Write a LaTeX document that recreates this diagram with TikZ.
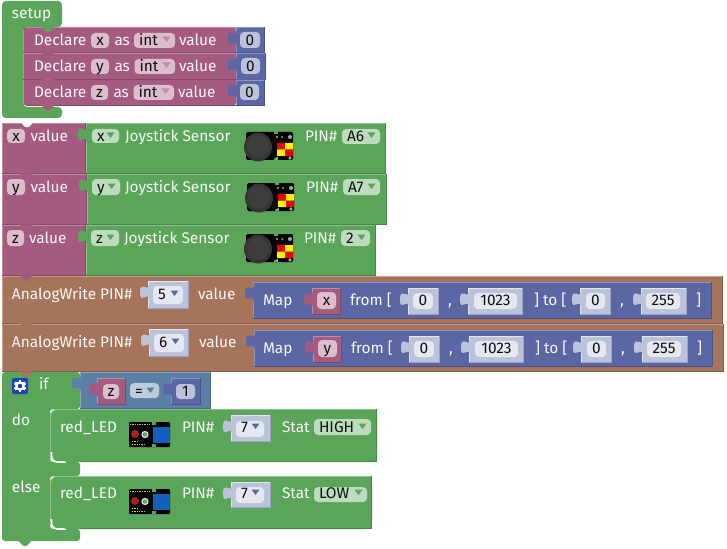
\documentclass[tikz,border=0pt]{standalone}
\usepackage{fontspec}
\setmainfont{Fira Sans}
\definecolor{gr}{HTML}{5BA55B}\definecolor{grL}{HTML}{8CC08C}\definecolor{grD}{HTML}{498449}\definecolor{grF}{HTML}{BDDBBD}
\definecolor{pu}{HTML}{A55B80}\definecolor{puL}{HTML}{C08CA6}\definecolor{puD}{HTML}{844966}\definecolor{puF}{HTML}{DBBDCC}
\definecolor{bl}{HTML}{5B67A5}\definecolor{blL}{HTML}{8C95C0}\definecolor{blD}{HTML}{495284}\definecolor{blF}{HTML}{BDC2DB}
\definecolor{br}{HTML}{A5745B}\definecolor{brL}{HTML}{C09E8C}\definecolor{brD}{HTML}{845D49}
\definecolor{st}{HTML}{5B80A5}\definecolor{stL}{HTML}{8CA6C0}\definecolor{stD}{HTML}{496684}\definecolor{stF}{HTML}{BDCCDB}
\definecolor{sh}{HTML}{BDC2DB}\definecolor{shL}{HTML}{E4E6F1}\definecolor{shD}{HTML}{9DA3C4}\definecolor{shF}{HTML}{E6E8F1}
\definecolor{lbl}{HTML}{F8F8F8}\definecolor{ink}{HTML}{111111}
\definecolor{joyA}{HTML}{363636}\definecolor{joyB}{HTML}{3E3E3E}
\definecolor{ledBlue}{HTML}{1560BD}\definecolor{ledRed}{HTML}{B01E1E}
\definecolor{ledGrey}{HTML}{DDDDDD}\definecolor{gearBlue}{HTML}{1F3FBF}
\tikzset{
  lab/.style={inner sep=0pt,outer sep=0pt,text=lbl,font=\fontsize{15.4}{18}\selectfont,anchor=base west,yshift=-.6pt},
  val/.style={inner sep=0pt,outer sep=0pt,text=ink,font=\fontsize{15.4}{18}\selectfont,yshift=-.6pt},
}
% rectangular block with bevel
\newcommand{\rblk}[5]{%
  \fill[#5] (#1,#2) rectangle (#3,#4);
  \draw[#5L,line width=.9pt] (#1+.5,#4) -- (#1+.5,#2+.5) -- (#3,#2+.5);
  \draw[#5D,line width=.9pt] (#3-.5,#2) -- (#3-.5,#4-.5) -- (#1,#4-.5);}
% left value tab
\newcommand{\vtab}[3]{%
  \fill[#3] (#1+.8,#2) .. controls (#1,#2+8) and (#1-8,#2-6) .. (#1-8,#2+7.5)
     .. controls (#1-8,#2+21) and (#1,#2+5) .. (#1+.8,#2+15) -- cycle;}
\newcommand{\vblk}[5]{\rblk{#1}{#2}{#3}{#4}{#5}\vtab{#1}{#2+4}{#5}}
% statement notch bump
\newcommand{\bump}[3]{%
  \fill[#3] (#1,#2-.7) .. controls (#1+2,#2-.2) and (#1+3,#2+1) .. (#1+4,#2+2.5)
    .. controls (#1+5,#2+4) and (#1+6,#2+5) .. (#1+8,#2+5)
    .. controls (#1+10,#2+5) and (#1+11,#2+4) .. (#1+12,#2+2.5)
    .. controls (#1+13,#2+1) and (#1+14,#2-.2) .. (#1+16,#2-.7) -- cycle;}
% label
\newcommand{\lb}[4]{\node[lab] (#1) at (#2,#3) {#4};}
% field with centred text: name x1 y1 x2 y2 fill text baseline
\newcommand{\fc}[8]{%
  \fill[#6,rounded corners=4pt] (#2,#3) rectangle (#4,#5);
  \path (#2,#8) -- (#4,#8) node[val,midway,anchor=base] (#1) {#7};}
% dropdown field: name x1 y1 x2 y2 fill text baseline tri colour
\newcommand{\dd}[9]{%
  \fill[#6,rounded corners=4pt] (#2,#3) rectangle (#4,#5);
  \node[val,anchor=base west] (#1) at (#2+5,#8) {#7};
  \fill[#9] (#4-12.5,#8-8.5) -- (#4-4.5,#8-8.5) -- (#4-8.5,#8-3) -- cycle;}
% joystick image at top-left corner
\newcommand{\joy}[2]{%
 \begin{scope}[shift={(#1,#2)}]
  \fill[black,rounded corners=1.5pt] (2,-1) rectangle (49,27);
  \fill[gr] (30,-1.2) rectangle (34,1) (30,25) rectangle (34,27.2);
  \fill[joyA] (14,14) ellipse [x radius=14,y radius=14.5];
  \fill[joyB] (14,13.5) circle [radius=11];
  \fill[red!95!black] (33,10) rectangle (41,16.5) (41,16.5) rectangle (49,23);
  \fill[yellow] (41,10) rectangle (49,16.5) (33,16.5) rectangle (41,23);
  \fill[gray!70] (46,4) circle [radius=2] (46,25) circle [radius=1.8];
  \fill[gray!50!yellow] (33,4) circle [radius=1.2] (38,4) circle [radius=1] (33,25) circle [radius=1];
 \end{scope}}
% LED module image at top-left corner
\newcommand{\led}[2]{%
 \begin{scope}[shift={(#1,#2)}]
  \fill[black,rounded corners=1pt] (0,0) rectangle (41,25);
  \fill[gr] (23,-.2) rectangle (27,3) (23,22) rectangle (27,25.2);
  \fill[ledBlue] (24,5) rectangle (41,21);
  \draw[yellow!80!black,line width=.7pt,dash pattern=on 1pt off .7pt] (1,2.5) -- (21,2.5) (3,19) -- (9,19) (3,22) -- (15,22);
  \fill[ledRed] (6,12) circle [radius=4];
  \fill[ledGrey] (16,12.5) circle [radius=3.7];
  \fill[gr] (16,12.5) circle [radius=2.2];
 \end{scope}}
\begin{document}
\begin{tikzpicture}[x=1pt,y=-1pt]
\useasboundingbox (0,0) rectangle (727,548);
\fill[white] (0,0) rectangle (727,548);
% ---------- setup
\fill[gr,rounded corners=4pt] (2,1) -- (62,1) -- (62,27) -- (23,27) -- (23,107) -- (62,107) -- (62,118) -- (2,118) -- cycle;
\lb{tsetup}{12}{18}{setup}
% Declare blocks
\fill[pu,rounded corners=3pt] (23,27) -- (236,27) -- (236,105.5) -- (23,105.5) -- cycle;
\draw[puL,line width=.9pt] (23.5,30) -- (23.5,103) (26,27.5) -- (236,27.5);
\draw[puD,line width=.9pt] (26,105) -- (236,105);
\draw[puL,line width=.7pt] (23,53.5) -- (236,53.5) (23,79.8) -- (236,79.8);
\draw[puD,line width=.7pt] (23,52.8) -- (236,52.8) (23,79.2) -- (236,79.2);
\bump{40}{27}{gr}
\bump{40}{53}{pu}\bump{40}{79.3}{pu}\bump{40}{105.5}{pu}
\lb{d1}{34}{45}{Declare}\fc{d1x}{91}{33}{109}{48}{puF}{x}{45}
\lb{d1a}{114.5}{45}{as}\dd{d1t}{134}{33}{175}{48}{puF}{int}{45}{puL}
\lb{d1v}{179}{45}{value}
\vblk{236}{27}{265}{53}{bl}\fc{d1n}{240}{32}{260}{48}{blF}{0}{45}
\lb{d2}{34}{71}{Declare}\fc{d2x}{91}{59}{109}{74}{puF}{y}{71}
\lb{d2a}{114.5}{71}{as}\dd{d2t}{134.5}{59}{175}{74}{puF}{int}{71}{puL}
\lb{d2v}{179}{71}{value}
\vblk{236}{53}{266}{79.5}{bl}\fc{d2n}{241}{58}{260}{74}{blF}{0}{71}
\lb{d3}{34}{97}{Declare}\fc{d3x}{91}{85}{108}{100}{puF}{z}{97}
\lb{d3a}{113.5}{97}{as}\dd{d3t}{133.5}{85}{174}{100}{puF}{int}{97}{puL}
\lb{d3v}{178}{97}{value}
\vblk{236}{79.5}{265}{105.5}{bl}\fc{d3n}{240}{84}{259}{100}{blF}{0}{97}
% ---------- if block (bottom-up so that bumps overlay)
\fill[gr,rounded corners=3pt] (2,372) -- (80,372) -- (80,409) -- (50,409) -- (50,462) -- (80,462) -- (80,476) -- (50,476) -- (50,529) -- (80,529) -- (80,541) -- (2,541) -- cycle;
\bump{17}{541}{gr}
% statement blocks
\fill[gr,rounded corners=7pt] (50,409) -- (377,409) -- (377,462) -- (50,462) -- cycle;
\fill[gr] (360,409) rectangle (377,462);
\draw[grL,line width=.9pt,rounded corners=7pt] (50.5,456) -- (50.5,409.5) -- (377,409.5);
\draw[grD,line width=.9pt] (376.5,409) -- (376.5,461.5) -- (80,461.5);
\draw[white,line width=1.6pt,rounded corners=6pt] (51.5,452) -- (51.5,462) -- (66,462);
\bump{64}{462}{gr}
\fill[gr,rounded corners=7pt] (50,476) -- (372,476) -- (372,529) -- (50,529) -- cycle;
\fill[gr] (355,476) rectangle (372,529);
\draw[grL,line width=.9pt,rounded corners=7pt] (50.5,523) -- (50.5,476.5) -- (372,476.5);
\draw[grD,line width=.9pt] (371.5,476) -- (371.5,528.5) -- (80,528.5);
\draw[white,line width=1.6pt,rounded corners=6pt] (51.5,519) -- (51.5,529) -- (66,529);
\bump{64}{529}{gr}
% gear
\fill[gearBlue,rounded corners=2pt] (12,378) rectangle (28,394);
\foreach \a in {0,60,...,300}{\fill[white,rotate around={\a:(20,386)}] (18.6,379.8) rectangle (21.4,392.2);}
\fill[white] (20,386) circle [radius=4.8];
\fill[gearBlue] (20,386) circle [radius=2.2];
\lb{tif}{39}{389}{if}
\vblk{80}{372}{211}{409}{st}
\vblk{97}{378}{126}{405}{pu}\fc{ifz}{103}{384}{119}{399}{puF}{z}{396}
\dd{ifeq}{130}{383}{159}{398}{stF}{=}{396}{st}
\vblk{171}{378}{201}{405}{bl}\fc{if1}{176}{384}{195}{399}{blF}{1}{396}
\lb{tdo}{12}{425}{do}
\lb{tr1}{60}{432}{red\_LED}\led{129}{422}
\lb{tp1}{182}{432}{PIN\#}
\vblk{231}{415}{271}{442}{sh}\dd{p1}{236}{421}{264}{437}{shF}{7}{432}{bl}
\lb{ts1}{282}{432}{Stat}\dd{s1}{314}{419}{371}{435}{grF}{HIGH}{432}{gr}
\lb{telse}{12}{492}{else}
\lb{tr2}{60}{498}{red\_LED}\led{129}{489}
\lb{tp2}{182}{498}{PIN\#}
\vblk{231}{482}{271}{508}{sh}\dd{p2}{236}{487}{264}{503}{shF}{7}{498}{bl}
\lb{ts2}{282}{498}{Stat}\dd{s2}{314}{487}{367}{502}{grF}{LOW}{498}{gr}
% ---------- AnalogWrite 2
\rblk{2}{324}{724}{372}{br}\bump{18}{372}{br}
\lb{a2}{12}{347}{AnalogWrite PIN\#}
\vblk{149}{329}{189}{357}{sh}\dd{a2p}{154}{334}{184}{352}{shF}{6}{347}{bl}
\lb{a2v}{199}{347}{value}
\vblk{254}{330}{713}{367}{bl}
\lb{m2}{263}{353}{Map}
\vblk{313}{336}{342}{363}{pu}\fc{m2y}{318}{340}{337}{357}{puF}{y}{353}
\lb{m2f}{351}{353}{from [}
\vblk{409}{336}{440}{363}{sh}\fc{m2a}{414}{341}{434}{357}{shF}{0}{353}
\lb{m2c}{449}{353}{,}
\vblk{469}{336}{524}{363}{sh}\fc{m2b}{475}{341}{518}{357}{shF}{1023}{353}
\lb{m2t}{535}{353}{] to [}
\vblk{581}{336}{612}{363}{sh}\fc{m2d}{587}{341}{606}{357}{shF}{0}{353}
\lb{m2e}{621}{353}{,}
\vblk{642}{336}{688}{363}{sh}\fc{m2g}{647}{341}{681}{357}{shF}{255}{353}
\lb{m2h}{697}{353}{]}
% ---------- AnalogWrite 1
\rblk{2}{276}{723}{324}{br}\bump{18}{323.7}{br}
\lb{a1}{12}{299}{AnalogWrite PIN\#}
\vblk{148}{281}{189}{309}{sh}\dd{a1p}{153}{286}{183}{304}{shF}{5}{299}{bl}
\lb{a1v}{198}{299}{value}
\vblk{253}{282}{712}{319}{bl}
\lb{m1}{263}{305}{Map}
\vblk{312}{288}{341}{315}{pu}\fc{m1x}{317}{292}{336}{309}{puF}{x}{305}
\lb{m1f}{350}{305}{from [}
\vblk{408}{288}{439}{315}{sh}\fc{m1a}{413}{293}{433}{309}{shF}{0}{305}
\lb{m1c}{448}{305}{,}
\vblk{468}{288}{523}{315}{sh}\fc{m1b}{474}{293}{517}{309}{shF}{1023}{305}
\lb{m1t}{534}{305}{] to [}
\vblk{580}{288}{611}{315}{sh}\fc{m1d}{586}{293}{605}{309}{shF}{0}{305}
\lb{m1e}{620}{305}{,}
\vblk{641}{288}{687}{315}{sh}\fc{m1g}{646}{293}{680}{309}{shF}{255}{305}
\lb{m1h}{696}{305}{]}
% ---------- z row
\rblk{2}{225}{86}{276}{pu}\bump{18}{276}{pu}
\vblk{86}{225}{376}{276}{gr}
\fc{zf}{7}{230}{24}{246}{puF}{z}{243}\lb{zv}{29}{243}{value}
\dd{zd}{91}{230}{119}{246}{grF}{z}{243}{gr}
\lb{zj}{124}{243}{Joystick Sensor}\joy{244}{235}
\lb{zp}{304}{243}{PIN\#}\dd{zs}{341}{230}{370}{246}{grF}{2}{243}{gr}
% ---------- y row
\rblk{2}{174}{87}{225}{pu}\bump{18}{225}{pu}
\vblk{87}{174}{387}{225}{gr}
\fc{yf}{7}{179}{25}{195}{puF}{y}{192}\lb{yv}{30.5}{192}{value}
\dd{yd}{92}{179}{120}{195}{grF}{y}{192}{gr}
\lb{yj}{125}{192}{Joystick Sensor}\joy{245}{184}
\lb{yp}{306}{192}{PIN\#}\dd{ys}{343}{179}{380}{195}{grF}{A7}{192}{gr}
% ---------- x row
\rblk{2}{123}{86}{174}{pu}\bump{18}{174}{pu}\bump{19}{122.3}{white}
\vblk{86}{123}{386}{174}{gr}
\fc{xf}{7}{129}{25}{143}{puF}{x}{141}\lb{xv}{30.5}{141}{value}
\dd{xd}{92}{129}{119}{143}{grF}{x}{141}{gr}
\lb{xj}{125}{141}{Joystick Sensor}\joy{244}{133}
\lb{xp}{305}{141}{PIN\#}\dd{xs}{342}{129}{380}{144}{grF}{A6}{141}{gr}
\end{tikzpicture}
\end{document}
